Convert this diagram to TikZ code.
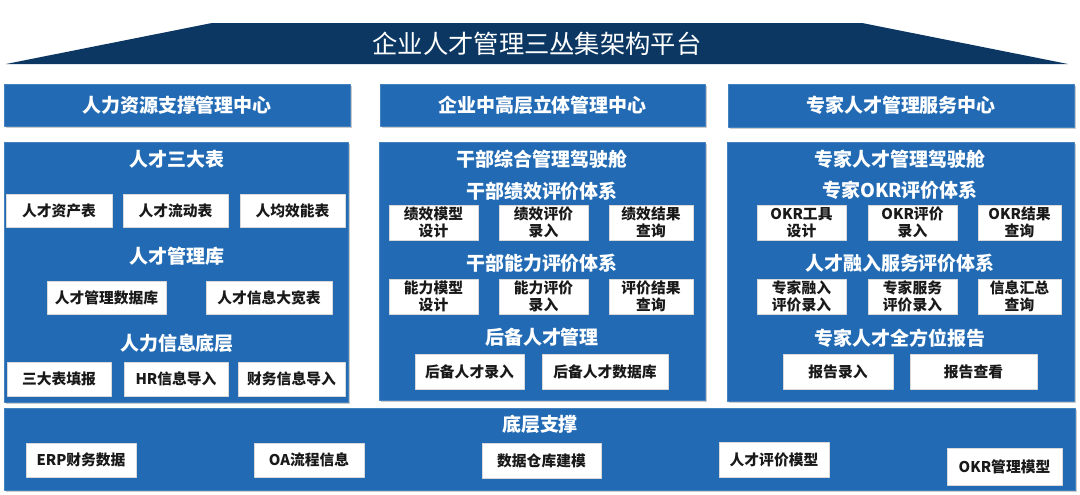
\documentclass[tikz,border=0pt]{standalone}
\usepackage{fontspec}
\setmainfont{Noto Sans CJK SC}
\usetikzlibrary{fit,shadows}

\definecolor{roofnavy}{RGB}{11,55,98}
\definecolor{panelblue}{RGB}{34,107,180}

\tikzset{
    panel/.style={fill=panelblue,draw=panelblue!85!white,line width=0.4pt,
        inner sep=0pt,
        drop shadow={shadow xshift=1.3pt,shadow yshift=-1.3pt,fill=black!45,opacity=.45}},
    headbox/.style={panel},
    headtext/.style={text=white,font=\bfseries\fontsize{13.5}{15}\selectfont},
    cell/.style={fill=white,draw=black!15,line width=0.3pt,inner sep=0pt},
    celltext/.style={align=center,text=black!90,inner sep=0pt,
        font=\bfseries\fontsize{10.5}{12}\selectfont},
    grouphead/.style={text=white,font=\bfseries\fontsize{13.5}{15}\selectfont},
}

\begin{document}
\begin{tikzpicture}[x=0.025cm,y=-0.025cm,line join=round]
        \useasboundingbox (0,0) rectangle (1080,494);

        % roof
        \fill[roofnavy] (6,64) -- (212,23) -- (862,23) -- (1068,64) -- cycle;
        \node[text=white,font=\fontsize{18}{20}\selectfont] (roof) at (537,44)
            {企业人才管理三丛集架构平台};

        % three centres
        \node[headbox,fit={(4,84) (350,126)},
            label={[headtext]center:人力资源支撑管理中心}] (hrc) {};
        \node[headbox,fit={(380,84) (705,126)},
            label={[headtext]center:企业中高层立体管理中心}] (exc) {};
        \node[headbox,fit={(728,84) (1074,127)},
            label={[headtext]center:专家人才管理服务中心}] (spc) {};

        \node[panel,fit={(4,142) (348,402)}] (hrp) {};
        \node[panel,fit={(379,142) (705,400)}] (exp) {};
        \node[panel,fit={(727,142) (1074,401)}] (spp) {};

        % left panel
        \node[grouphead] (tbl) at (177,159) {人才三大表};
        \node[cell,fit={(6,194) (112,227)},label={[celltext]center:人才资产表}] (tblA) {};
        \node[cell,fit={(123,194) (228,227)},label={[celltext]center:人才流动表}] (tblB) {};
        \node[cell,fit={(240,194) (345,227)},label={[celltext]center:人均效能表}] (tblC) {};

        \node[grouphead] (lib) at (177,256) {人才管理库};
        \node[cell,fit={(47,281) (166,314)},label={[celltext]center:人才管理数据库}] (libA) {};
        \node[cell,fit={(206,281) (332,314)},label={[celltext]center:人才信息大宽表}] (libB) {};

        \node[grouphead] (base) at (177,343) {人力信息底层};
        \node[cell,fit={(7,362) (111,396)},label={[celltext]center:三大表填报}] (baseA) {};
        \node[cell,fit={(124,362) (228,396)},label={[celltext]center:HR信息导入}] (baseB) {};
        \node[cell,fit={(238,362) (345,396)},label={[celltext]center:财务信息导入}] (baseC) {};

        % middle panel
        \node[grouphead] (cockpit) at (542,159) {干部综合管理驾驶舱};
        \node[grouphead] (perf) at (542,191) {干部绩效评价体系};
        \node[cell,fit={(389,205) (478,240)},label={[celltext]center:绩效模型\\设计}] (perfA) {};
        \node[cell,fit={(499,205) (588,240)},label={[celltext]center:绩效评价\\录入}] (perfB) {};
        \node[cell,fit={(609,205) (693,240)},label={[celltext]center:绩效结果\\查询}] (perfC) {};

        \node[grouphead] (abil) at (542,263) {干部能力评价体系};
        \node[cell,fit={(389,279) (478,314)},label={[celltext]center:能力模型\\设计}] (abilA) {};
        \node[cell,fit={(499,279) (588,314)},label={[celltext]center:能力评价\\录入}] (abilB) {};
        \node[cell,fit={(609,279) (693,314)},label={[celltext]center:评价结果\\查询}] (abilC) {};

        \node[grouphead] (resv) at (542,337) {后备人才管理};
        \node[cell,fit={(415,354) (524,389)},label={[celltext]center:后备人才录入}] (resvA) {};
        \node[cell,fit={(542,354) (668,389)},label={[celltext]center:后备人才数据库}] (resvB) {};

        % right panel
        \node[grouphead] (spcockpit) at (900,159) {专家人才管理驾驶舱};
        \node[grouphead] (okr) at (900,190) {专家OKR评价体系};
        \node[cell,fit={(757,205) (846,240)},label={[celltext]center:OKR工具\\设计}] (okrA) {};
        \node[cell,fit={(868,205) (957,240)},label={[celltext]center:OKR评价\\录入}] (okrB) {};
        \node[cell,fit={(978,205) (1061,240)},label={[celltext]center:OKR结果\\查询}] (okrC) {};

        \node[grouphead] (integ) at (900,263) {人才融入服务评价体系};
        \node[cell,fit={(757,279) (846,314)},label={[celltext]center:专家融入\\评价录入}] (integA) {};
        \node[cell,fit={(868,279) (957,314)},label={[celltext]center:专家服务\\评价录入}] (integB) {};
        \node[cell,fit={(978,279) (1061,314)},label={[celltext]center:信息汇总\\查询}] (integC) {};

        \node[grouphead] (report) at (900,338) {专家人才全方位报告};
        \node[cell,fit={(783,354) (893,389)},label={[celltext]center:报告录入}] (reportA) {};
        \node[cell,fit={(910,354) (1037,389)},label={[celltext]center:报告查看}] (reportB) {};

        % bottom support
        \node[panel,fit={(4,408) (1075,490)}] (support) {};
        \node[grouphead] (supporthead) at (540,424) {底层支撑};
        \node[cell,fit={(26,443) (136,477)},label={[celltext]center:ERP财务数据}] (erp) {};
        \node[cell,fit={(254,443) (364,477)},label={[celltext]center:OA流程信息}] (oa) {};
        \node[cell,fit={(482,443) (601,478)},label={[celltext]center:数据仓库建模}] (dw) {};
        \node[cell,fit={(719,442) (829,477)},label={[celltext]center:人才评价模型}] (evalmodel) {};
        \node[cell,fit={(947,448) (1062,485)},label={[celltext]center:OKR管理模型}] (okrmodel) {};
    \end{tikzpicture}
\end{document}
